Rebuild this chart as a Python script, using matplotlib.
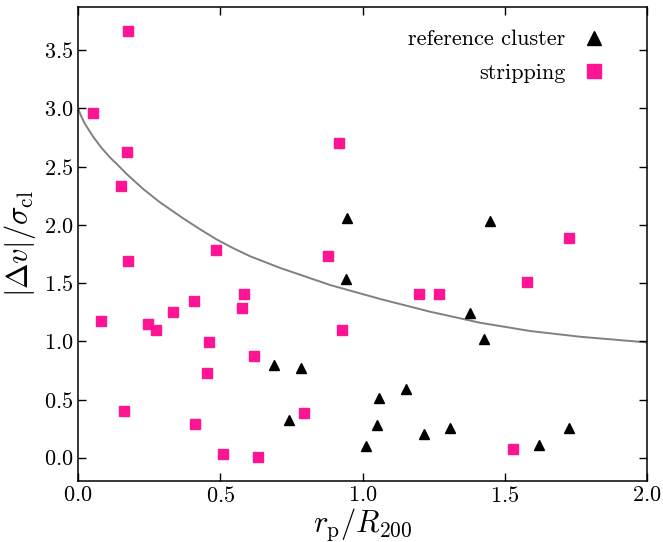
import numpy as np
import matplotlib
matplotlib.use('Agg')
import matplotlib.pyplot as plt

plt.rcParams['font.family'] = 'cmr10'
plt.rcParams['mathtext.fontset'] = 'cm'
plt.rcParams['axes.formatter.use_mathtext'] = True

# reference cluster galaxies
ref_r = [0.690, 0.743, 0.783, 0.941, 0.946, 1.449, 1.379, 1.426,
         1.059, 1.154, 1.050, 1.013, 1.216, 1.306, 1.619, 1.725]
ref_dv = [0.800, 0.325, 0.772, 1.535, 2.057, 2.034, 1.242, 1.019,
          0.509, 0.589, 0.279, 0.099, 0.202, 0.254, 0.113, 0.254]

# stripping candidates
strip_r = [0.177, 0.054, 0.172, 0.152, 0.485, 0.177, 0.082, 0.246,
           0.275, 0.333, 0.407, 0.585, 0.576, 0.460, 0.619, 0.455,
           0.163, 0.411, 0.510, 0.632, 0.880, 0.929, 1.197, 1.268,
           1.578, 1.726, 0.795, 1.527, 0.916]
strip_dv = [3.667, 2.960, 2.624, 2.330, 1.780, 1.690, 1.176, 1.150,
            1.093, 1.254, 1.346, 1.406, 1.283, 0.993, 0.870, 0.726,
            0.403, 0.288, 0.033, 0.004, 1.730, 1.093, 1.406, 1.409,
            1.509, 1.890, 0.380, 0.073, 2.700]

# escape-velocity style envelope
curve_r = [0.0, 0.010, 0.024, 0.054, 0.082, 0.111, 0.141, 0.170, 0.228,
           0.287, 0.370, 0.430, 0.487, 0.545, 0.605, 0.710, 0.886, 1.062,
           1.237, 1.413, 1.589, 1.764, 2.0]
curve_dv = [3.0, 2.94, 2.869, 2.754, 2.663, 2.582, 2.511, 2.439, 2.310,
            2.195, 2.055, 1.96, 1.875, 1.80, 1.73, 1.63, 1.483, 1.363,
            1.254, 1.159, 1.088, 1.039, 0.99]

fig = plt.figure(figsize=(6.63, 5.42), dpi=100)
ax = fig.add_axes([0.1176, 0.1125, 0.8586, 0.8745])

ax.plot(curve_r, curve_dv, color='grey', lw=1.4, zorder=1)
ax.plot(ref_r, ref_dv, ls='none', marker='^', ms=6.5, color='black',
        label='reference cluster', zorder=3)
ax.plot(strip_r, strip_dv, ls='none', marker='s', ms=6.5, color='#ff1493',
        label='stripping', zorder=2)

ax.set_xlim(0, 2.0)
ax.set_ylim(-0.2, 3.87)
ax.set_xticks([0.0, 0.5, 1.0, 1.5, 2.0])
ax.set_yticks([0.0, 0.5, 1.0, 1.5, 2.0, 2.5, 3.0, 3.5])
ax.tick_params(direction='in', top=True, right=True, length=6, width=1,
               labelsize=16)
for s in ax.spines.values():
    s.set_linewidth(1.1)

ax.set_xlabel(r'$r_{\rm p}/R_{200}$', fontsize=22, labelpad=0)
ax.set_ylabel(r'$|\Delta v|/\sigma_{\rm cl}$', fontsize=22, labelpad=4)

ax.legend(loc='upper right', bbox_to_anchor=(0.981, 0.994), frameon=False,
          markerfirst=False, fontsize=16, markerscale=1.5, numpoints=1,
          handletextpad=0.3, labelspacing=0.64)

fig.savefig('out.png', dpi=100)
